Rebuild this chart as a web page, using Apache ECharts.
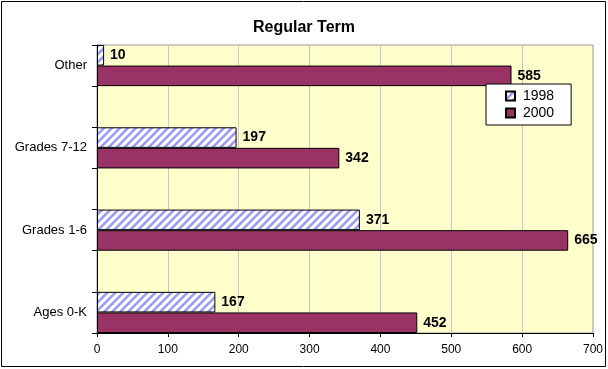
<!DOCTYPE html>
<html><head><meta charset="utf-8">
<script src="https://cdn.jsdelivr.net/npm/echarts@6/dist/echarts.min.js"></script>
<style>html,body{margin:0;padding:0;background:#fff}#c{width:608px;height:369px}</style>
</head><body><div id="c"></div>
<script>
const categories = ['Ages 0-K', 'Grades 1-6', 'Grades 7-12', 'Other'];
const values1998 = [167, 371, 197, 10];
const values2000 = [452, 665, 342, 585];
const xTicks = [0, 100, 200, 300, 400, 500, 600, 700];

// Excel layout: blank spacer categories between the groups, bars fill each group
const axisCats = [];
const d1998 = [], d2000 = [];
categories.forEach((c, i) => {
  if (i > 0) { axisCats.push(''); d1998.push(null); d2000.push(null); }
  axisCats.push(c); d1998.push(values1998[i]); d2000.push(values2000[i]);
});

function hatch() {
  const c = document.createElement('canvas');
  c.width = 8; c.height = 8;
  const g = c.getContext('2d');
  g.fillStyle = '#ffffff'; g.fillRect(0, 0, 8, 8);
  g.strokeStyle = '#9999ff'; g.lineWidth = 2.6;
  g.beginPath();
  g.moveTo(-2, 10); g.lineTo(10, -2);
  g.moveTo(-6, 6); g.lineTo(6, -6);
  g.moveTo(2, 14); g.lineTo(14, 2);
  g.stroke();
  return c;
}
const pat = { image: hatch(), repeat: 'repeat' };
const FF = 'Liberation Sans, Arial, sans-serif';

const chart = echarts.init(document.getElementById('c'));
const lbl = { show: true, position: 'right', distance: 6, color: '#000', fontWeight: 'bold', fontSize: 14, fontFamily: FF };
chart.setOption({
  animation: false,
  title: { text: 'Regular Term', left: 'center', top: 15, textStyle: { fontFamily: FF, fontWeight: 'bold', fontSize: 16, color: '#000' } },
  legend: {
    data: ['1998', '2000'], orient: 'vertical', left: 486, top: 84,
    backgroundColor: '#fff', borderColor: '#000', borderWidth: 1,
    padding: [5, 17, 5, 19], itemWidth: 9, itemHeight: 9, itemGap: 3, icon: 'rect',
    textStyle: { fontFamily: FF, fontSize: 14, color: '#000', padding: [0, 0, 0, 3] }
  },
  grid: { left: 97, right: 15, top: 45, bottom: 36, show: true, backgroundColor: '#ffffcc', borderColor: '#999', borderWidth: 1 },
  xAxis: {
    type: 'value', min: 0, max: 700, interval: 100,
    axisLine: { show: true, lineStyle: { color: '#000' } },
    axisTick: { show: true, length: 4, lineStyle: { color: '#000' } },
    splitLine: { show: true, lineStyle: { color: '#c8c8c8' } },
    axisLabel: { color: '#000', fontFamily: FF, fontSize: 12, margin: 11,
      formatter: v => xTicks.includes(v) ? String(v) : '' }
  },
  yAxis: {
    type: 'category', data: axisCats,
    axisLine: { show: true, lineStyle: { color: '#000' } },
    axisTick: { show: true, length: 5, lineStyle: { color: '#000' } },
    axisLabel: { color: '#000', fontFamily: FF, fontSize: 13, margin: 10, interval: 0 }
  },
  series: [
    { name: '1998', type: 'bar', data: d1998, barGap: '0%', barCategoryGap: '0%',
      itemStyle: { color: pat, borderColor: '#000', borderWidth: 1 }, label: lbl },
    { name: '2000', type: 'bar', data: d2000, barGap: '0%', barCategoryGap: '0%',
      itemStyle: { color: '#993366', borderColor: '#000', borderWidth: 1 }, label: lbl }
  ],
  graphic: [{ type: 'rect', shape: { x: 1.5, y: 1.5, width: 604, height: 365 }, style: { fill: null, stroke: '#000', lineWidth: 1 }, silent: true }]
});
</script></body></html>
